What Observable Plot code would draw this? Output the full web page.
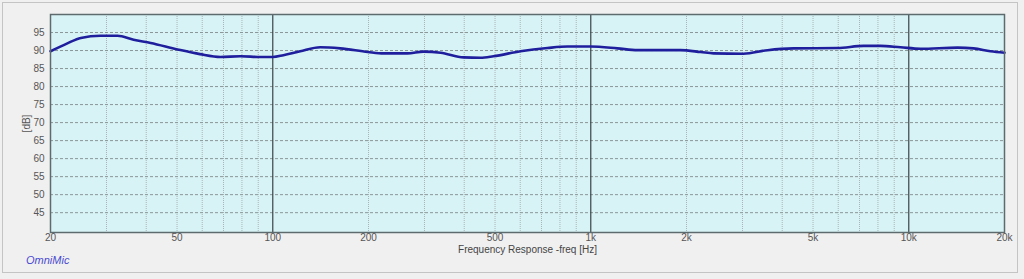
<!DOCTYPE html>
<html>
<head>
<meta charset="utf-8">
<script src="https://cdn.jsdelivr.net/npm/d3@7"></script>
<script src="https://cdn.jsdelivr.net/npm/@observablehq/plot@0.6"></script>
<style>
  html, body { margin: 0; padding: 0; background: #f0f0f0; }
  #wrap { position: relative; width: 1024px; height: 279px; overflow: hidden; background: #f0f0f0; }
  #frame { position: absolute; left: 2px; top: 2px; width: 1016px; height: 271px; border: 1px solid #c4c4c4; box-sizing: border-box; }
  #omni { position: absolute; left: 26px; top: 254px; font: italic 11px "Liberation Sans", Arial, sans-serif; color: #4a4ad0; }
  #chart { position: absolute; left: 0; top: 0; }
</style>
</head>
<body>
<div id="wrap">
  <div id="frame"></div>
  <div id="chart"></div>
  <div id="omni">OmniMic</div>
</div>
<script>
// Frequency response data (Hz, dB)
const freqs = [20, 22.6, 24.9, 28.7, 32.5, 36.5, 41.3, 50.2, 59, 68.5, 79, 91.5, 100, 108, 122,
  141, 163, 199, 223, 265, 298, 337, 398, 450, 494, 601, 731, 845, 998, 1213, 1402, 1914, 2214,
  2432, 3020, 3597, 4339, 5970, 7210, 8150, 9420, 10890, 14230, 15990, 18060, 20000];
const spl = [89.8, 92.0, 93.5, 94.1, 94.1, 93.0, 92.1, 90.3, 89.0, 88.2, 88.4, 88.2, 88.2, 88.7, 89.8,
  90.9, 90.6, 89.6, 89.2, 89.2, 89.7, 89.4, 88.1, 88.0, 88.4, 89.8, 90.7, 91.1, 91.1, 90.6, 90.1, 90.1, 89.6,
  89.2, 89.1, 90.1, 90.6, 90.7, 91.3, 91.3, 90.9, 90.5, 90.8, 90.6, 89.8, 89.4];

const xTicks = [20, 50, 100, 200, 500, 1000, 2000, 5000, 10000, 20000];
const xTickLabels = ["20", "50", "100", "200", "500", "1k", "2k", "5k", "10k", "20k"];
const minorGrid = [30, 40, 50, 60, 70, 80, 90, 200, 300, 400, 500, 600, 700, 800, 900,
  2000, 3000, 4000, 5000, 6000, 7000, 8000, 9000];
const majorGrid = [100, 1000, 10000];
const yTicks = [45, 50, 55, 60, 65, 70, 75, 80, 85, 90, 95];
const xTitle = "Frequency Response -freq [Hz]";

const data = freqs.map((f, i) => ({f, db: spl[i]}));
const tickData = xTicks.map((t, i) => ({t, label: xTickLabels[i]}));

const chart = Plot.plot({
  width: 1024,
  height: 279,
  marginLeft: 50,
  marginRight: 20,
  marginTop: 14,
  marginBottom: 47,
  style: {background: "transparent", fontFamily: "'Liberation Sans', Arial, sans-serif", fontSize: "10px", color: "#555"},
  x: {type: "log", domain: [20, 20000], axis: null},
  y: {domain: [39.5, 100], ticks: yTicks, tickSize: 0, tickPadding: 6, label: "[dB]", labelArrow: "none",
      labelAnchor: "center", labelOffset: 28},
  marks: [
    Plot.frame({fill: "#d8f3f5", stroke: null}),
    Plot.ruleX(minorGrid, {stroke: "#a9b4b6", strokeWidth: 1, strokeDasharray: "1,1"}),
    Plot.ruleY(yTicks, {stroke: "#8a9698", strokeWidth: 1, strokeDasharray: "3,2"}),
    Plot.ruleX(majorGrid, {stroke: "#3a4446", strokeWidth: 1.2}),
    Plot.line(data, {x: "f", y: "db", stroke: "#1f1f9e", strokeWidth: 2.6, curve: "monotone-x"}),
    Plot.frame({stroke: "#5d6b6e", strokeWidth: 1.5}),
    Plot.text(tickData, {x: "t", text: "label", frameAnchor: "bottom", lineAnchor: "top", dy: 1,
      fill: "#555", fontSize: 10}),
    Plot.text([xTitle], {text: d => d, frameAnchor: "bottom", lineAnchor: "top", dy: 13,
      fill: "#444", fontSize: 10})
  ]
});
document.getElementById("chart").appendChild(chart);
</script>
</body>
</html>
